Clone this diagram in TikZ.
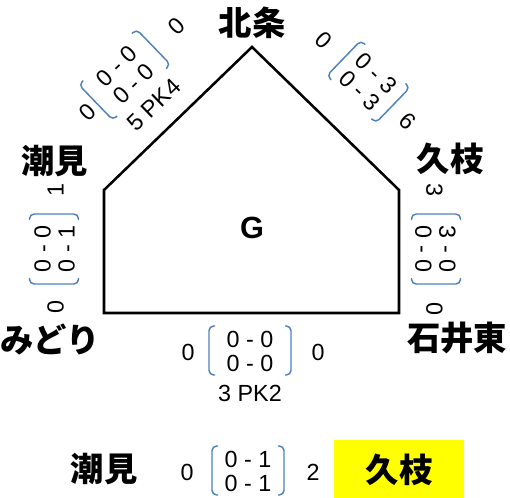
\documentclass[tikz,border=0pt]{standalone}
\usepackage{fontspec}
\setmainfont{Liberation Sans}
\newfontfamily\jpfont{Noto Sans CJK JP}
\usetikzlibrary{positioning}
\definecolor{bracketblue}{RGB}{79,129,189}
\definecolor{winyellow}{RGB}{255,255,0}

\begin{document}
\begin{tikzpicture}[x=0.75pt,y=-0.75pt,
    num/.style={font=\fontsize{17.5}{20}\selectfont, inner sep=0pt},
    team/.style={font=\jpfont\bfseries\fontsize{25}{28}\selectfont, inner sep=0pt},
    brk/.style={draw=bracketblue, line width=1.1pt, rounded corners=3.5pt}]
    \useasboundingbox (0,0) rectangle (510,497);
    % the field
    \coordinate (top) at (252,47);
    \coordinate (ul) at (104,190);
    \coordinate (ll) at (104,313);
    \coordinate (lr) at (399,313);
    \coordinate (ur) at (399,190);
    \draw[line width=1.9pt] (top) -- (ul) -- (ll) -- (lr) -- (ur) -- cycle;
    \node[font=\bfseries\fontsize{23}{26}\selectfont] (g) at (252,228) {G};

    % team names
    \foreach \n/\x/\y/\t in {
        hojo/252/23/北条,
        ushiomi/55/161/潮見,
        hisaeda/450/159/久枝,
        midori/50/339/みどり,
        ishiihigashi/457/338/石井東,
        ushiomifin/104/469/潮見
    } {
        \node[team] (\n) at (\x,\y) {\t};
    }
    \node[team, fill=winyellow, minimum width=98, minimum height=45] (hisaedafin) at (399,470) {久枝};

    % scores along the edges
    \foreach \n/\cx/\cy/\rot/\bw/\oa/\ob/\l/\ra/\rb/\r in {
        nw/125/75/44/40/-53/71/0/0 - 0/0 - 0/0,
        ne/368/82/-44/34/-61/56/0/0 - 3/0 - 3/6,
        w/54.5/249/90/35/-58/59/0/0 - 0/0 - 1/1,
        e/435.5/249/-90/35/-59/60/3/3 - 0/0 - 0/0,
        s/250/351/0/41/-62/68/0/0 - 0/0 - 0/0,
        fin/248/471/0/36/-61/65/0/0 - 1/0 - 1/2
    } {
        \begin{scope}[shift={(\cx,\cy)}, rotate=\rot, transform shape]
            \node[num] (\n-l) at (\oa,1) {\l};
            \node[num] (\n-a) at (0,-12) {\ra};
            \node[num] (\n-b) at (0,12) {\rb};
            \node[num] (\n-r) at (\ob,1) {\r};
            \draw[brk] (-\bw+6,-25) -- (-\bw,-25) -- (-\bw,24) -- (-\bw+6,24);
            \draw[brk] (\bw-6,-25) -- (\bw,-25) -- (\bw,24) -- (\bw-6,24);
        \end{scope}
    }
    % penalty shoot-outs
    \foreach \n/\cx/\cy/\rot/\pk in {
        nw/125/75/44/5 PK4,
        s/250/351/0/3 PK2
    } {
        \begin{scope}[shift={(\cx,\cy)}, rotate=\rot, transform shape]
            \node[num] (\n-pk) at (0,42) {\pk};
        \end{scope}
    }
\end{tikzpicture}
\end{document}
